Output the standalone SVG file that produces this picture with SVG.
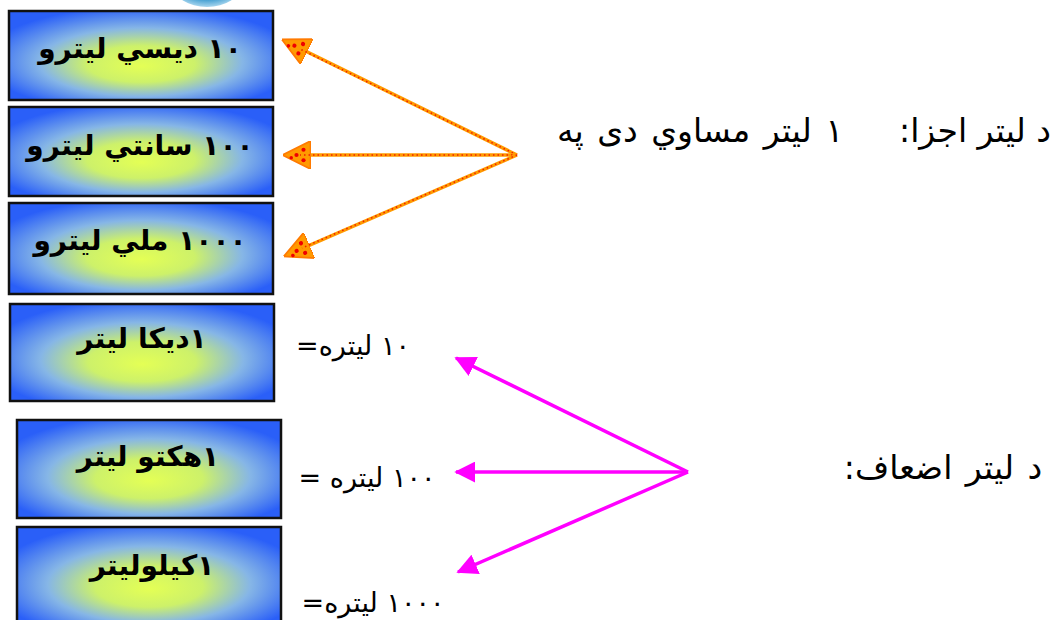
<svg xmlns="http://www.w3.org/2000/svg" width="1052" height="620" viewBox="0 0 1052 620">
<style>
.box{stroke:#111;stroke-width:2.5;fill:url(#glow)}
.bt{font-family:"DejaVu Sans",sans-serif;font-weight:bold;font-size:28px;fill:#000;text-anchor:middle;direction:rtl;unicode-bidi:embed}
.lt{font-family:"DejaVu Sans",sans-serif;font-size:27px;fill:#000;text-anchor:middle;direction:rtl;unicode-bidi:embed}
.rt{font-family:"DejaVu Sans",sans-serif;font-size:33px;fill:#000;text-anchor:middle;direction:rtl;unicode-bidi:embed}
.or{stroke:#ff9a00;stroke-width:3.5;fill:none}
.ord{stroke:#ee2200;stroke-width:1.6;stroke-dasharray:1.5 3;fill:none}
.mg{stroke:#ff00ff;stroke-width:3.5;fill:none}
</style>
<defs>
<radialGradient id="glow" cx="0.5" cy="0.55" r="0.6" fx="0.5" fy="0.62">
<stop offset="0" stop-color="#e4ff55"/>
<stop offset="0.34" stop-color="#cdf16a"/>
<stop offset="0.64" stop-color="#86b6e6"/>
<stop offset="1" stop-color="#2a5ff8"/>
</radialGradient>
<radialGradient id="ball" cx="0.5" cy="0.4" r="0.6">
<stop offset="0" stop-color="#1c7db8"/>
<stop offset="0.7" stop-color="#3c9bd0"/>
<stop offset="1" stop-color="#a8d6ee"/>
</radialGradient>
<marker id="oa" markerWidth="8" markerHeight="8" refX="7" refY="4" orient="auto" markerUnits="strokeWidth" viewBox="0 0 8 8">
<path d="M0,0 L8,4 L0,8 Z" fill="#ff9a00" stroke="#ff7a00" stroke-width="0.5"/>
<circle cx="4" cy="4" r="0.6" fill="#e00"/><circle cx="2" cy="2.5" r="0.6" fill="#e00"/><circle cx="2" cy="5.5" r="0.6" fill="#e00"/><circle cx="5.5" cy="3.2" r="0.5" fill="#e00"/>
</marker>
<marker id="ma" markerWidth="6" markerHeight="6" refX="5.5" refY="3" orient="auto" markerUnits="strokeWidth" viewBox="0 0 6 6">
<path d="M0,0 L6,3 L0,6 Z" fill="#ff00ff"/>
</marker>
</defs>
<rect width="1052" height="620" fill="#fff"/>
<ellipse cx="207" cy="-15" rx="34" ry="22" fill="url(#ball)"/>

<g id="n1"><rect class="box" x="9" y="11" width="264" height="89"/><text class="bt" x="140" y="58">١٠ ديسي ليترو</text></g>
<g id="n2"><rect class="box" x="9" y="107" width="264" height="89"/><text class="bt" x="140" y="155">١٠٠ سانتي ليترو</text></g>
<g id="n3"><rect class="box" x="9" y="203" width="264" height="91"/><text class="bt" x="140" y="250">١٠٠٠ ملي ليترو</text></g>
<g id="n4"><rect class="box" x="10" y="304" width="264" height="97"/><text class="bt" x="142" y="348">١ديكا ليتر</text></g>
<g id="n5"><rect class="box" x="17" y="420" width="264" height="98"/><text class="bt" x="148" y="466">١هكتو ليتر</text></g>
<g id="n6"><rect class="box" x="17" y="527" width="264" height="100"/><text class="bt" x="152" y="575">١كيلوليتر</text></g>

<g id="labels">
<text class="rt" x="975" y="142">د ليتر اجزا:</text>
<text class="rt" x="700" y="142" word-spacing="3">١ ليتر مساوي دی په</text>
<text class="rt" x="943" y="479" word-spacing="3">د ليتر اضعاف:</text>
<text class="lt" x="353" y="355">١٠ ليتره=</text>
<text class="lt" x="367" y="487">١٠٠ ليتره =</text>
<text class="lt" x="373" y="612">١٠٠٠ ليتره=</text>
</g>

<g id="connectors">
<line class="or" x1="517" y1="155" x2="285" y2="41" marker-end="url(#oa)"/>
<line class="ord" x1="517" y1="155" x2="300" y2="49"/>
<line class="or" x1="517" y1="155" x2="286" y2="155" marker-end="url(#oa)"/>
<line class="ord" x1="517" y1="155" x2="300" y2="155"/>
<line class="or" x1="517" y1="155" x2="287" y2="255" marker-end="url(#oa)"/>
<line class="ord" x1="517" y1="155" x2="302" y2="248"/>
<line class="mg" x1="688" y1="472" x2="456" y2="358" marker-end="url(#ma)"/>
<line class="mg" x1="688" y1="472" x2="456" y2="472" marker-end="url(#ma)"/>
<line class="mg" x1="688" y1="472" x2="458" y2="572" marker-end="url(#ma)"/>
</g>
</svg>
